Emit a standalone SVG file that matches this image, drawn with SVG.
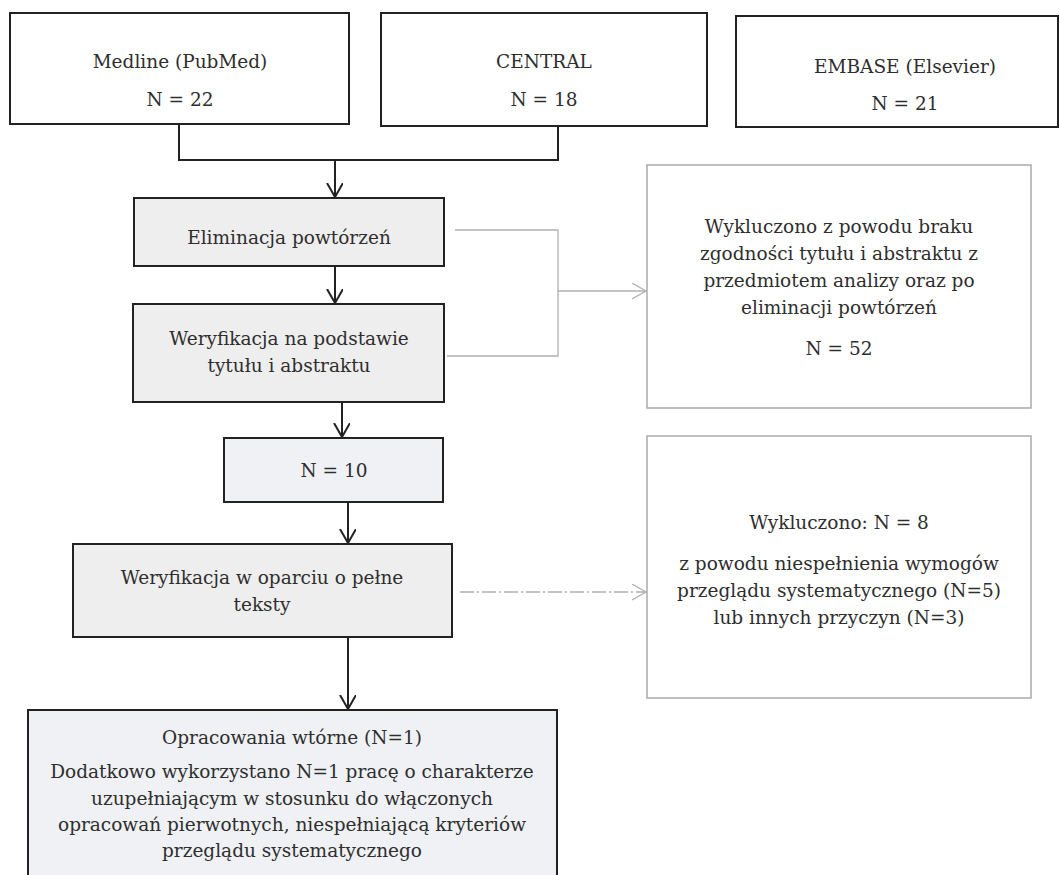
<svg xmlns="http://www.w3.org/2000/svg" width="1060" height="875" viewBox="0 0 1060 875">
<style>
text{font-family:"DejaVu Serif","Liberation Serif",serif;font-size:18.5px;fill:#2e2e2e;text-anchor:middle}
.top{fill:#fff;stroke:#222;stroke-width:2}
.main{fill:#eeeeee;stroke:#222;stroke-width:2}
.blue{fill:#eff1f4;stroke:#222;stroke-width:2}
.side{fill:#fff;stroke:#aaa;stroke-width:1.5}
.blk{fill:none;stroke:#222;stroke-width:2}
.gry{fill:none;stroke:#b0b0b0;stroke-width:1.3}
</style>
<defs>
<marker id="ab" markerUnits="userSpaceOnUse" markerWidth="20" markerHeight="20" refX="14" refY="8" orient="auto">
<path d="M0,0 L14,8 L0,16" fill="none" stroke="#222" stroke-width="2"/>
</marker>
<marker id="ag" markerUnits="userSpaceOnUse" markerWidth="20" markerHeight="20" refX="14" refY="8" orient="auto">
<path d="M0,0 L14,8 L0,16" fill="none" stroke="#b0b0b0" stroke-width="1.3"/>
</marker>
</defs>
<rect width="1060" height="875" fill="#fff"/>
<g id="connectors">
<path class="blk" d="M179,124 V160 H558 V126"/>
<path class="blk" d="M335,160 V197" marker-end="url(#ab)"/>
<path class="blk" d="M335,266 V303" marker-end="url(#ab)"/>
<path class="blk" d="M342,402 V437" marker-end="url(#ab)"/>
<path class="blk" d="M348,502 V543" marker-end="url(#ab)"/>
<path class="blk" d="M348,637 V709" marker-end="url(#ab)"/>
<path class="gry" d="M455,230 H558 V356 H447"/>
<path class="gry" d="M558,291 H646" marker-end="url(#ag)"/>
<path class="gry" d="M460,592 H646" stroke-dasharray="14,3,2,3" marker-end="url(#ag)"/>
</g>
<g id="medline">
<rect class="top" x="10" y="13" width="339" height="111"/>
<text x="180" y="68">Medline (PubMed)</text>
<text x="180" y="106">N = 22</text>
</g>
<g id="central">
<rect class="top" x="381" y="13" width="326" height="113"/>
<text x="544" y="68">CENTRAL</text>
<text x="544" y="106">N = 18</text>
</g>
<g id="embase">
<rect class="top" x="736" y="16" width="322" height="111"/>
<text x="905" y="73">EMBASE (Elsevier)</text>
<text x="905" y="110">N = 21</text>
</g>
<g id="eliminacja">
<rect class="main" x="134" y="198" width="310" height="68"/>
<text x="289" y="244">Eliminacja powtórzeń</text>
</g>
<g id="weryfikacja1">
<rect class="main" x="133" y="304" width="311" height="98"/>
<text x="289" y="345">Weryfikacja na podstawie</text>
<text x="289" y="372">tytułu i abstraktu</text>
</g>
<g id="n10">
<rect class="blue" x="224" y="438" width="219" height="64"/>
<text x="334" y="477">N = 10</text>
</g>
<g id="weryfikacja2">
<rect class="main" x="73" y="544" width="379" height="93"/>
<text x="262" y="584">Weryfikacja w oparciu o pełne</text>
<text x="262" y="611">teksty</text>
</g>
<g id="opracowania">
<rect class="blue" x="28" y="710" width="529" height="175"/>
<text x="292" y="744">Opracowania wtórne (N=1)</text>
<text x="292" y="778">Dodatkowo wykorzystano N=1 pracę o charakterze</text>
<text x="292" y="805">uzupełniającym w stosunku do włączonych</text>
<text x="292" y="831">opracowań pierwotnych, niespełniającą kryteriów</text>
<text x="292" y="857">przeglądu systematycznego</text>
</g>
<g id="wykluczono1">
<rect class="side" x="647" y="165" width="384" height="243"/>
<text x="839" y="233">Wykluczono z powodu braku</text>
<text x="839" y="260">zgodności tytułu i abstraktu z</text>
<text x="839" y="287">przedmiotem analizy oraz po</text>
<text x="839" y="314">eliminacji powtórzeń</text>
<text x="839" y="355">N = 52</text>
</g>
<g id="wykluczono2">
<rect class="side" x="647" y="436" width="384" height="262"/>
<text x="839" y="529">Wykluczono: N = 8</text>
<text x="839" y="570">z powodu niespełnienia wymogów</text>
<text x="839" y="597">przeglądu systematycznego (N=5)</text>
<text x="839" y="624">lub innych przyczyn (N=3)</text>
</g>
</svg>
